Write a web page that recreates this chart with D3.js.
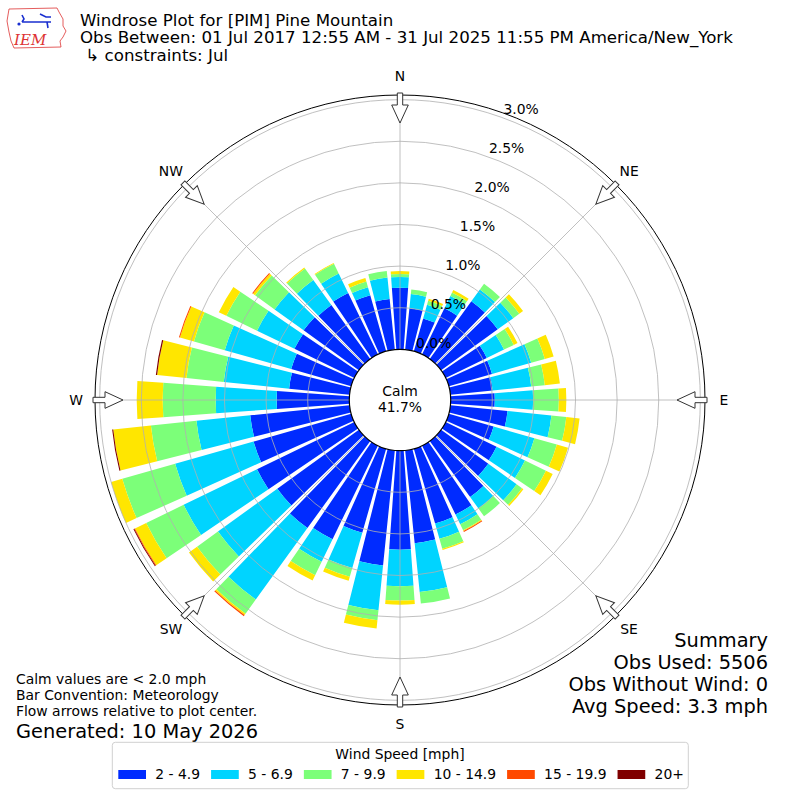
<!DOCTYPE html>
<html>
<head>
<meta charset="utf-8">
<script src="https://cdn.jsdelivr.net/npm/d3@7"></script>
<style>
  body { margin: 0; background: #fff; }
  svg { font-family: "DejaVu Sans", sans-serif; }
</style>
</head>
<body>
<svg id="chart" width="800" height="800"></svg>
<script>
// Data (percent of observations per 10 degree direction bin)
const directions = [0, 10, 20, 30, 40, 50, 60, 70, 80, 90, 100, 110, 120, 130, 140, 150, 160, 170,
  180, 190, 200, 210, 220, 230, 240, 250, 260, 270, 280, 290, 300, 310, 320, 330, 340, 350];
const speedBins = ["2 - 4.9", "5 - 6.9", "7 - 9.9", "10 - 14.9", "15 - 19.9", "20+"];

const speed2to5 = [0.74, 0.50, 0.41, 0.615, 0.855, 0.84, 0.55, 0.54, 0.51, 0.53, 0.69, 0.56, 0.68, 0.70, 0.83, 0.92, 0.935, 1.12,
  1.19, 1.39, 1.05, 1.25, 1.29, 1.21, 1.30, 1.22, 1.20, 0.873, 0.73, 0.75, 0.80, 0.82, 0.80, 0.82, 0.70, 0.61];
const speed5to7 = [0.13, 0.17, 0.17, 0.165, 0.175, 0.23, 0.23, 0.49, 0.466, 0.46, 0.53, 0.51, 0.38, 0.42, 0.17, 0.13, 0.19, 0.59,
  0.44, 0.54, 0.44, 0.30, 1.06, 0.88, 0.98, 0.98, 0.65, 0.733, 0.79, 0.83, 0.50, 0.43, 0.37, 0.26, 0.10, 0.26];
const speed7to10 = [0.035, 0.055, 0.05, 0.045, 0.085, 0.09, 0.13, 0.17, 0.164, 0.31, 0.18, 0.28, 0.28, 0.08, 0.115, 0.08, 0.125, 0.14,
  0.17, 0.12, 0.11, 0.18, 0.21, 0.31, 0.50, 0.66, 0.55, 0.637, 0.45, 0.385, 0.41, 0.29, 0.17, 0.13, 0.07, 0.08];
const speed10to15 = [0.035, 0, 0.026, 0.035, 0, 0.055, 0.05, 0.11, 0.182, 0.09, 0.16, 0.14, 0.09, 0.02, 0, 0.01, 0.015, 0,
  0.05, 0.10, 0.05, 0.07, 0.02, 0.12, 0.15, 0.14, 0.455, 0.312, 0.355, 0.175, 0.10, 0.03, 0.015, 0.01, 0.045, 0];
const speed15to20 = [0, 0, 0, 0, 0, 0, 0, 0, 0, 0, 0, 0, 0, 0, 0, 0.012, 0, 0,
  0, 0, 0, 0, 0.015, 0, 0.01, 0, 0, 0, 0, 0.012, 0, 0.012, 0, 0, 0, 0];
const speed20up = [0, 0, 0, 0, 0, 0, 0, 0, 0, 0, 0, 0, 0, 0, 0, 0, 0, 0,
  0, 0, 0, 0, 0, 0, 0.01, 0, 0.013, 0, 0.015, 0, 0, 0, 0, 0, 0, 0];

const radialTicks = [0.0, 0.5, 1.0, 1.5, 2.0, 2.5, 3.0];
const compassNames = ["N", "NE", "E", "SE", "S", "SW", "W", "NW"];
const compassAngles = [0, 45, 90, 135, 180, 225, 270, 315];
const calmPercent = "41.7%";
const summaryLines = ["Summary", "Obs Used: 5506", "Obs Without Wind: 0", "Avg Speed: 3.3 mph"];
const noteLines = ["Calm values are < 2.0 mph", "Bar Convention: Meteorology", "Flow arrows relative to plot center."];

// Configuration
const cx = 400, cy = 400;
const keys = ["s0", "s1", "s2", "s3", "s4", "s5"];
const colors = ["rgb(0,43,255)", "rgb(0,212,255)", "rgb(124,255,121)", "rgb(255,230,0)", "rgb(255,73,0)", "rgb(128,0,0)"];
const barHalfWidth = 4.15; // degrees
const gridColor = "#b0b0b0";

const svg = d3.select("#chart");
svg.append("rect").attr("width", 800).attr("height", 800).attr("fill", "#fff");

// Scales
const rScale = d3.scaleLinear().domain([0, 3.056]).range([50.7, 305]);
const aScale = d3.scaleLinear().domain([0, 360]).range([0, 2 * Math.PI]);

// Stack data
const table = directions.map((d, i) => ({
  dir: d, s0: speed2to5[i], s1: speed5to7[i], s2: speed7to10[i],
  s3: speed10to15[i], s4: speed15to20[i], s5: speed20up[i]
}));
const series = d3.stack().keys(keys)(table);

const g = svg.append("g").attr("transform", `translate(${cx},${cy})`);

// Bars
const arc = d3.arc()
  .innerRadius(d => rScale(d[0]))
  .outerRadius(d => rScale(d[1]))
  .startAngle(d => aScale(d.data.dir - barHalfWidth))
  .endAngle(d => aScale(d.data.dir + barHalfWidth));

g.selectAll("g.layer")
  .data(series)
  .join("g")
  .attr("class", "layer")
  .attr("fill", (d, i) => colors[i])
  .selectAll("path")
  .data(d => d.filter(p => p[1] - p[0] > 0))
  .join("path")
  .attr("d", arc);

// Gridlines (on top of bars)
g.selectAll("circle.ring")
  .data(radialTicks.slice(1))
  .join("circle")
  .attr("class", "ring")
  .attr("r", d => rScale(d))
  .attr("fill", "none")
  .attr("stroke", gridColor)
  .attr("stroke-width", 0.8);

g.selectAll("line.spoke")
  .data(compassAngles)
  .join("line")
  .attr("class", "spoke")
  .attr("x1", 0).attr("y1", 0)
  .attr("x2", d => Math.sin(aScale(d)) * rScale.range()[1])
  .attr("y2", d => -Math.cos(aScale(d)) * rScale.range()[1])
  .attr("stroke", gridColor)
  .attr("stroke-width", 0.8);

// Outer spine
g.append("circle")
  .attr("r", rScale.range()[1])
  .attr("fill", "none")
  .attr("stroke", "#000")
  .attr("stroke-width", 1);

// Calm circle
g.append("circle")
  .attr("r", rScale(0))
  .attr("fill", "#fff")
  .attr("stroke", "#000")
  .attr("stroke-width", 1.2);
g.append("text").attr("x", 0).attr("y", -9).attr("text-anchor", "middle")
  .attr("dominant-baseline", "central").attr("font-size", 13.9).text("Calm");
g.append("text").attr("x", 0).attr("y", 7).attr("text-anchor", "middle")
  .attr("dominant-baseline", "central").attr("font-size", 13.9).text(calmPercent);

// Radial labels
const labelAngle = aScale(20.5);
g.selectAll("text.rlabel")
  .data(radialTicks)
  .join("text")
  .attr("class", "rlabel")
  .attr("x", d => Math.sin(labelAngle) * rScale(d) + 16)
  .attr("y", d => -Math.cos(labelAngle) * rScale(d) - 10)
  .attr("text-anchor", "middle")
  .attr("dominant-baseline", "central")
  .attr("font-size", 13.9)
  .text(d => d3.format(".1f")(d) + "%");

// Flow arrows
const arrowShape = [[-2.7, -307], [2.7, -307], [2.7, -295], [8.3, -295], [0, -277], [-8.3, -295], [-2.7, -295]];
g.selectAll("polygon.arrow")
  .data(compassAngles)
  .join("polygon")
  .attr("class", "arrow")
  .attr("points", arrowShape.map(p => p.join(",")).join(" "))
  .attr("transform", d => `rotate(${d})`)
  .attr("fill", "#fff")
  .attr("stroke", "#333")
  .attr("stroke-width", 1);

// Compass labels
g.selectAll("text.compass")
  .data(compassAngles)
  .join("text")
  .attr("class", "compass")
  .attr("x", d => Math.sin(aScale(d)) * 324)
  .attr("y", d => -Math.cos(aScale(d)) * 324)
  .attr("text-anchor", "middle")
  .attr("dominant-baseline", "central")
  .attr("font-size", 13.9)
  .text((d, i) => compassNames[i]);

// Titles
const titles = [
  "Windrose Plot for [PIM] Pine Mountain",
  "Obs Between: 01 Jul 2017 12:55 AM - 31 Jul 2025 11:55 PM America/New_York",
  " \u21b3 constraints: Jul"
];
svg.selectAll("text.title")
  .data(titles)
  .join("text")
  .attr("class", "title")
  .attr("x", 80)
  .attr("y", (d, i) => 25.5 + i * 17.5)
  .attr("font-size", 16.67)
  .attr("xml:space", "preserve")
  .style("white-space", "pre")
  .text(d => d);

// IEM logo
const logo = svg.append("g");
logo.append("path")
  .attr("d", "M9,9 L57,8 L59,12 L63,19 L63,26 L66,31 L63,37 L60,41 L61,47 L14,48 L11,41 L9,32 L7,21 Z")
  .attr("fill", "none").attr("stroke", "#d33").attr("stroke-width", 0.8);
logo.append("path")
  .attr("d", "M22,22 L51,22 M22,15 L24,19 L22,22 M40,14 L46,17 L51,17 M47,22 L48,28")
  .attr("fill", "none").attr("stroke", "#1a2fd0").attr("stroke-width", 1.6);
logo.append("circle").attr("cx", 19).attr("cy", 24).attr("r", 1.6).attr("fill", "#1a2fd0");
logo.append("text").attr("x", 14).attr("y", 45)
  .attr("font-family", "'DejaVu Serif', 'Liberation Serif', serif")
  .attr("font-style", "italic").attr("font-size", 15).attr("fill", "#d33").text("IEM");

// Notes bottom-left
svg.selectAll("text.note")
  .data(noteLines)
  .join("text")
  .attr("class", "note")
  .attr("x", 16)
  .attr("y", (d, i) => 684 + i * 15.8)
  .attr("font-size", 13.9)
  .text(d => d);
svg.append("text").attr("x", 16).attr("y", 737.5).attr("font-size", 19.4).text("Generated: 10 May 2026");

// Summary bottom-right
svg.selectAll("text.summary")
  .data(summaryLines)
  .join("text")
  .attr("class", "summary")
  .attr("x", 768)
  .attr("y", (d, i) => 647 + i * 22)
  .attr("text-anchor", "end")
  .attr("font-size", 19.4)
  .text(d => d);

// Legend
const legend = svg.append("g");
legend.append("rect")
  .attr("x", 112.3).attr("y", 742.3).attr("width", 576).attr("height", 46.4)
  .attr("rx", 3).attr("fill", "#fff").attr("stroke", "#d0d0d0").attr("stroke-width", 1);
legend.append("text").attr("x", 400).attr("y", 758.7).attr("text-anchor", "middle")
  .attr("font-size", 13.9).text("Wind Speed [mph]");
let lx = 118.3;
speedBins.forEach((label, i) => {
  legend.append("rect").attr("x", lx).attr("y", 770).attr("width", 27.7).attr("height", 9)
    .attr("fill", colors[i]);
  const t = legend.append("text").attr("x", lx + 37).attr("y", 779)
    .attr("font-size", 13.9).text(label);
  lx = lx + 37 + t.node().getComputedTextLength() + 11;
});
</script>
</body>
</html>
